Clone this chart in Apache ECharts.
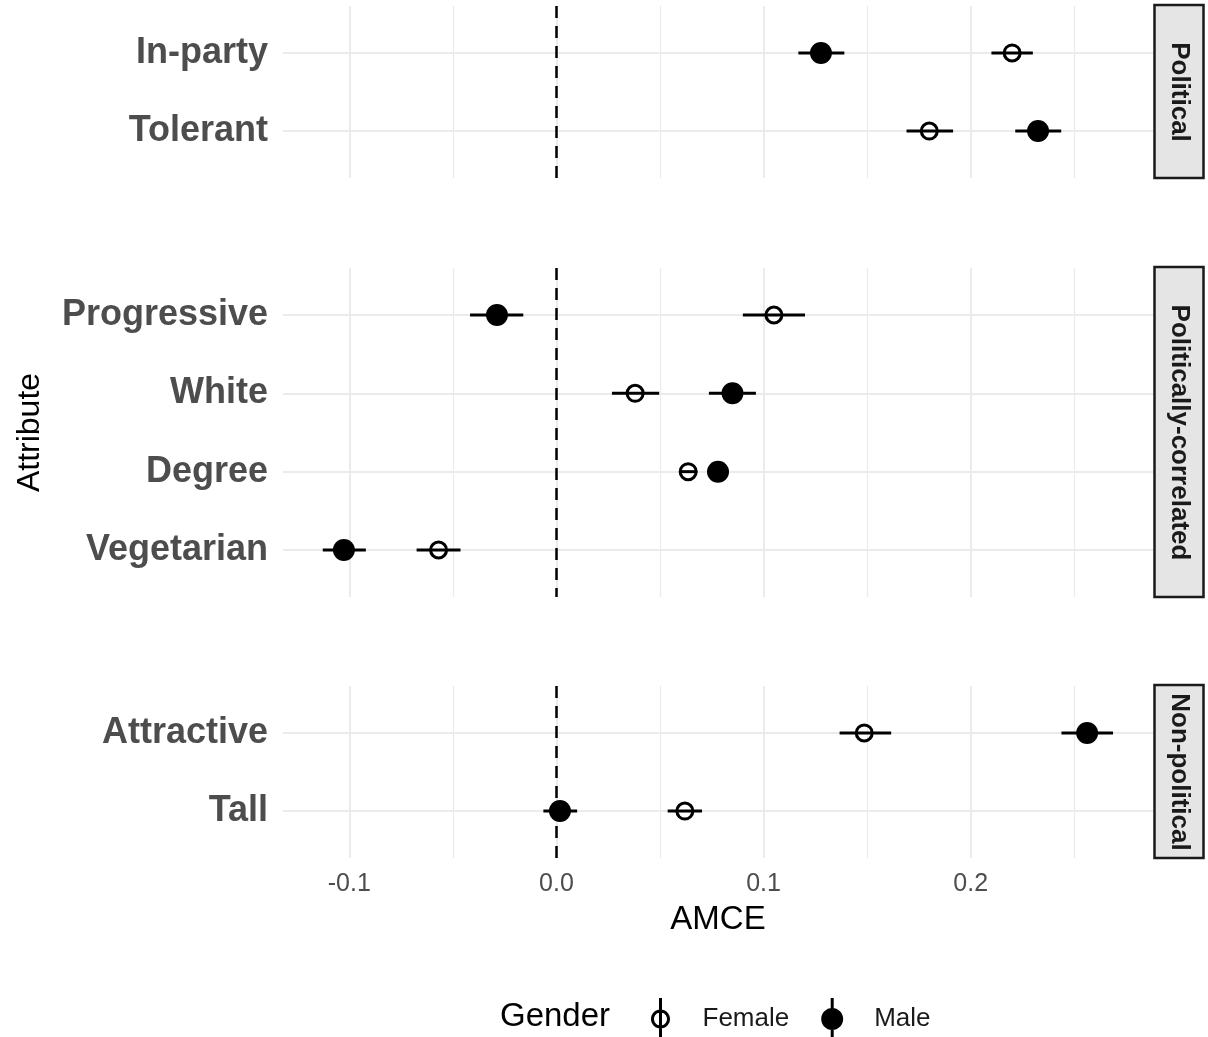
<!DOCTYPE html>
<html>
<head>
<meta charset="utf-8">
<script src="https://cdn.jsdelivr.net/npm/echarts@6/dist/echarts.min.js"></script>
<style>
html,body{margin:0;padding:0;background:#fff;}
#chart{width:1208px;height:1037px;}
</style>
</head>
<body>
<div id="chart"></div>
<script>
// ---------------- data ----------------
const panels = ['Political', 'Politically-correlated', 'Non-political'];
const attributes = ['In-party', 'Tolerant', 'Progressive', 'White', 'Degree', 'Vegetarian', 'Attractive', 'Tall'];
const attributeGroup = ['Political', 'Political', 'Politically-correlated', 'Politically-correlated',
  'Politically-correlated', 'Politically-correlated', 'Non-political', 'Non-political'];

const femaleEst = [0.220, 0.180, 0.105, 0.038, 0.0636, -0.0569, 0.1486, 0.062];
const femaleLo  = [0.210, 0.169, 0.090, 0.0268, 0.0592, -0.0675, 0.1367, 0.0537];
const femaleHi  = [0.230, 0.1915, 0.120, 0.0496, 0.0680, -0.0463, 0.1616, 0.0703];

const maleEst = [0.1277, 0.2325, -0.0287, 0.085, 0.078, -0.1026, 0.2562, 0.0017];
const maleLo  = [0.1168, 0.2215, -0.0417, 0.0736, 0.0745, -0.1128, 0.2438, -0.0063];
const maleHi  = [0.139, 0.2437, -0.0160, 0.0963, 0.0815, -0.0920, 0.2687, 0.0100];

const majorTicks = [-0.1, 0.0, 0.1, 0.2];
const minorTicks = [-0.05, 0.05, 0.15, 0.25];
const genders = ['Female', 'Male'];

// ---------------- layout / style ----------------
const FONT = "'Liberation Sans', Arial, Helvetica, sans-serif";
const GRID_LEFT = 283, GRID_RIGHT = 55;
const TOPS = [6, 268, 686];
const HEIGHTS = [172, 329, 172];
const X_MIN = -0.132, X_MAX = 0.288;
const GRID_COLOR = '#ebebeb';

const chart = echarts.init(document.getElementById('chart'), null, {renderer: 'canvas'});

const grids = [], xAxes = [], yAxes = [], series = [], graphics = [];

const genderData = {
  Female: {est: femaleEst, lo: femaleLo, hi: femaleHi},
  Male: {est: maleEst, lo: maleLo, hi: maleHi}
};

panels.forEach((panel, p) => {
  const idx = attributes.map((a, i) => i).filter(i => attributeGroup[i] === panel);
  const cats = idx.map(i => attributes[i]);
  const local = cats.map((c, j) => j);
  const n = cats.length;

  grids.push({left: GRID_LEFT, right: GRID_RIGHT, top: TOPS[p], height: HEIGHTS[p],
    containLabel: false, outerBoundsMode: 'none'});

  xAxes.push({
    type: 'value', gridIndex: p, min: X_MIN, max: X_MAX,
    axisLine: {show: false},
    axisTick: {show: false, customValues: majorTicks},
    axisLabel: {show: p === panels.length - 1, customValues: majorTicks,
      formatter: v => v.toFixed(1), color: '#4d4d4d', fontSize: 25, margin: 14, fontFamily: FONT},
    splitLine: {show: true, lineStyle: {color: GRID_COLOR, width: 2}},
    name: p === panels.length - 1 ? 'AMCE' : '',
    nameLocation: 'middle', nameGap: 45,
    nameTextStyle: {fontSize: 33, color: '#000', fontFamily: FONT}
  });
  xAxes.push({
    type: 'value', gridIndex: p, min: X_MIN, max: X_MAX,
    axisLine: {show: false},
    axisTick: {show: false, customValues: minorTicks},
    axisLabel: {show: false, customValues: minorTicks},
    splitLine: {show: true, lineStyle: {color: GRID_COLOR, width: 1.2}}
  });
  yAxes.push({
    type: 'value', gridIndex: p, inverse: true, min: -0.6, max: n - 0.4,
    axisLine: {show: false},
    axisTick: {show: false, customValues: local},
    axisLabel: {customValues: local, formatter: v => cats[Math.round(v)] || '',
      fontSize: 36, fontWeight: 'bold', color: '#4d4d4d', margin: 15, fontFamily: FONT},
    splitLine: {show: true, lineStyle: {color: GRID_COLOR, width: 2}},
    name: p === 1 ? 'Attribute' : '',
    nameLocation: 'middle', nameRotate: 90, nameGap: 237,
    nameTextStyle: {fontSize: 32, color: '#000', fontFamily: FONT}
  });

  // zero reference line
  series.push({
    type: 'scatter', name: 'zero', xAxisIndex: 2 * p, yAxisIndex: p, data: [], silent: true, z: 1,
    markLine: {silent: true, symbol: 'none', animation: false,
      label: {show: false},
      lineStyle: {type: [12, 8], color: '#000', width: 2.5},
      data: [{xAxis: 0}]}
  });

  genders.forEach(g => {
    const d = genderData[g];
    series.push({
      type: 'custom', name: g, xAxisIndex: 2 * p, yAxisIndex: p, z: 2,
      encode: {x: [0, 1], y: 2},
      data: idx.map((i, j) => [d.lo[i], d.hi[i], j]),
      renderItem: (params, api) => {
        const a = api.coord([api.value(0), api.value(2)]);
        const b = api.coord([api.value(1), api.value(2)]);
        return {type: 'line', shape: {x1: a[0], y1: a[1], x2: b[0], y2: b[1]},
          style: {stroke: '#000', lineWidth: 3}};
      }
    });
  });
  genders.forEach(g => {
    const d = genderData[g];
    series.push({
      type: 'scatter', name: g, xAxisIndex: 2 * p, yAxisIndex: p, z: 3,
      symbol: 'circle',
      symbolSize: g === 'Female' ? 16 : 22,
      itemStyle: g === 'Female'
        ? {color: 'rgba(0,0,0,0)', borderColor: '#000', borderWidth: 3, opacity: 1}
        : {color: '#000', opacity: 1},
      data: idx.map((i, j) => [d.est[i], j])
    });
  });

  // facet strip
  const stripX = 1154.5, stripW = 49;
  graphics.push({
    type: 'rect', silent: true,
    shape: {x: stripX, y: TOPS[p] - 1, width: stripW, height: HEIGHTS[p] + 1},
    style: {fill: '#e5e5e5', stroke: '#1a1a1a', lineWidth: 2.5}
  });
  graphics.push({
    type: 'text', silent: true,
    x: stripX + stripW / 2, y: TOPS[p] + HEIGHTS[p] / 2, rotation: -Math.PI / 2,
    style: {text: panel, font: 'bold 26px ' + FONT, fill: '#1a1a1a', align: 'center', verticalAlign: 'middle'}
  });
});

// legend title
graphics.push({
  type: 'text', silent: true, x: 500, y: 1017,
  style: {text: 'Gender', font: '33px ' + FONT, fill: '#000', align: 'left', verticalAlign: 'middle'}
});

// legend key glyphs (pointrange: vertical line + circle), built from cubic Bezier circles
function circlePath(cx, cy, r, clockwise) {
  const k = 0.5523 * r;
  if (clockwise) {
    return `M${cx} ${cy - r} C${cx + k} ${cy - r} ${cx + r} ${cy - k} ${cx + r} ${cy} ` +
      `C${cx + r} ${cy + k} ${cx + k} ${cy + r} ${cx} ${cy + r} ` +
      `C${cx - k} ${cy + r} ${cx - r} ${cy + k} ${cx - r} ${cy} ` +
      `C${cx - r} ${cy - k} ${cx - k} ${cy - r} ${cx} ${cy - r} Z`;
  }
  return `M${cx} ${cy - r} C${cx - k} ${cy - r} ${cx - r} ${cy - k} ${cx - r} ${cy} ` +
    `C${cx - r} ${cy + k} ${cx - k} ${cy + r} ${cx} ${cy + r} ` +
    `C${cx + k} ${cy + r} ${cx + r} ${cy + k} ${cx + r} ${cy} ` +
    `C${cx + r} ${cy - k} ${cx + k} ${cy - r} ${cx} ${cy - r} Z`;
}
const stem = 'M9.5 0 L12.5 0 L12.5 42 L9.5 42 Z ';
const femaleIcon = 'path://' + stem + circlePath(11, 21, 9.5, true) + ' ' + circlePath(11, 21, 6.5, false);
const maleIcon = 'path://' + stem + circlePath(11, 21, 11, true);

const option = {
  animation: false,
  backgroundColor: '#fff',
  textStyle: {fontFamily: FONT},
  grid: grids,
  xAxis: xAxes,
  yAxis: yAxes,
  series: series,
  legend: {
    left: 646, top: 993, orient: 'horizontal',
    itemWidth: 22, itemHeight: 42, itemGap: 32,
    symbolKeepAspect: true,
    selectedMode: false,
    textStyle: {fontSize: 26, color: '#1a1a1a', fontFamily: FONT, padding: [0, 0, 0, 26]},
    data: [
      {name: 'Female', icon: femaleIcon, itemStyle: {color: '#000', borderWidth: 0, opacity: 1}},
      {name: 'Male', icon: maleIcon, itemStyle: {color: '#000', borderWidth: 0, opacity: 1}}
    ]
  },
  graphic: graphics
};

chart.setOption(option);
</script>
</body>
</html>
